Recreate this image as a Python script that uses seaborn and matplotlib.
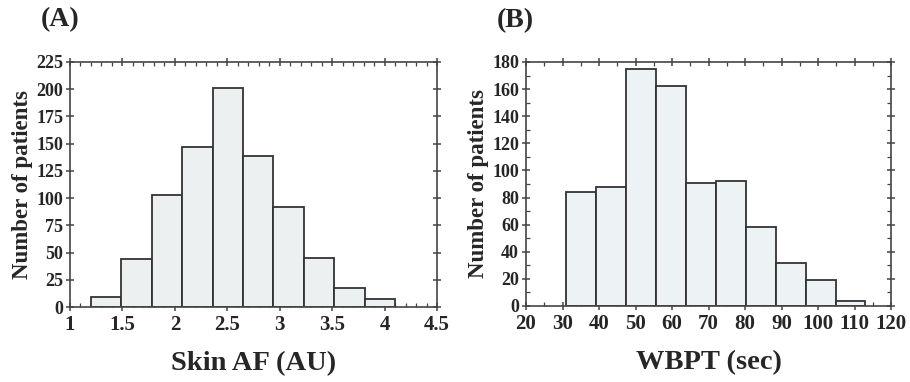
import numpy as np
import pandas as pd
import seaborn as sns
import matplotlib.pyplot as plt
from matplotlib.ticker import MultipleLocator

# Panel A: skin autofluorescence histogram
af_edges = [1.20, 1.49, 1.78, 2.07, 2.36, 2.65, 2.94, 3.23, 3.52, 3.81, 4.10]
af_counts = [9, 44, 103, 147, 201, 139, 92, 45, 17, 7]

# Panel B: WBPT histogram
wbpt_edges = [31.0, 39.2, 47.4, 55.6, 63.8, 72.0, 80.2, 88.4, 96.6, 104.8, 113.0]
wbpt_counts = [84, 88, 175, 162, 91, 92, 58, 32, 19, 4]

sns.set_theme(style="white")
plt.rcParams['font.family'] = ['Liberation Serif', 'DejaVu Serif']
plt.rcParams['font.weight'] = 'bold'

fig = plt.figure(figsize=(9.1, 3.82), dpi=100)
ax_a = fig.add_axes([70 / 910, 1 - 307 / 382, 367 / 910, 245 / 382])
ax_b = fig.add_axes([526 / 910, 1 - 306 / 382, 365 / 910, 244 / 382])


def centers(edges):
    e = np.asarray(edges)
    return (e[:-1] + e[1:]) / 2


df_a = pd.DataFrame({'x': centers(af_edges), 'w': af_counts})
df_b = pd.DataFrame({'x': centers(wbpt_edges), 'w': wbpt_counts})

sns.histplot(data=df_a, x='x', weights='w', bins=af_edges, ax=ax_a,
             color='#edf0f0', edgecolor='#333333', linewidth=1.3, alpha=1)
sns.histplot(data=df_b, x='x', weights='w', bins=wbpt_edges, ax=ax_b,
             color='#edf2f4', edgecolor='#333333', linewidth=1.3, alpha=1)

ax_a.set_xlim(1, 4.5)
ax_a.set_ylim(0, 225)
ax_a.xaxis.set_major_locator(MultipleLocator(0.5))
ax_a.xaxis.set_minor_locator(MultipleLocator(0.1))
ax_a.yaxis.set_major_locator(MultipleLocator(25))
ax_a.set_xticks([1, 1.5, 2, 2.5, 3, 3.5, 4, 4.5])
ax_a.set_xticklabels(['1', '1.5', '2', '2.5', '3', '3.5', '4', '4.5'])

ax_b.set_xlim(20, 120)
ax_b.set_ylim(0, 180)
ax_b.xaxis.set_major_locator(MultipleLocator(10))
ax_b.xaxis.set_minor_locator(MultipleLocator(5))
ax_b.yaxis.set_major_locator(MultipleLocator(20))
ax_b.yaxis.set_minor_locator(MultipleLocator(10))

for ax, xlabel, tag in [(ax_a, 'Skin AF (AU)', '(A)'), (ax_b, 'WBPT (sec)', '(B)')]:
    for s in ax.spines.values():
        s.set_visible(True)
        s.set_color('#444444')
        s.set_linewidth(1.2)
    ax.tick_params(which='major', direction='inout', length=6, width=1.1,
                   color='#444444', top=True, right=True, bottom=True, left=True)
    ax.tick_params(which='minor', direction='in', length=3, width=0.9,
                   color='#444444', top=True, right=True, bottom=True, left=True)
    ax.tick_params(axis='x', labelsize=15, pad=3)
    ax.tick_params(axis='y', labelsize=13, pad=2)
    for lbl in ax.get_xticklabels() + ax.get_yticklabels():
        lbl.set_fontweight('bold')
    ax.set_xlabel(xlabel, fontsize=20.5, fontweight='bold', labelpad=11)
    ax.set_ylabel('Number of patients', fontsize=16.5, fontweight='bold', labelpad=2)
    ax.text(-0.08, 1.12, tag, transform=ax.transAxes, fontsize=20,
            fontweight='bold', ha='left', va='bottom')

fig.savefig('out.png', dpi=100)
